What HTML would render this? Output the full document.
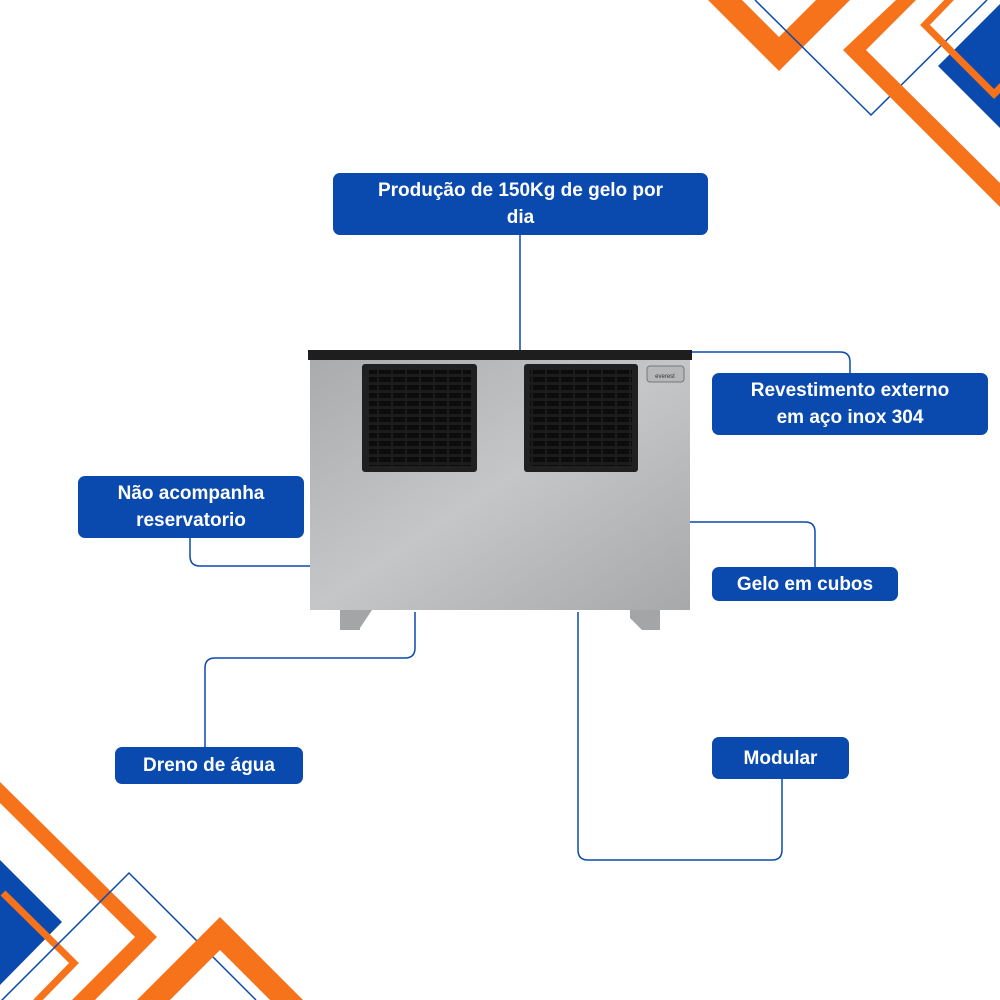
<!DOCTYPE html>
<html><head><meta charset="utf-8"><style>
html,body{margin:0;padding:0;background:#fff;}
.wrap{position:relative;width:1000px;height:1000px;overflow:hidden;font-family:"Liberation Sans",sans-serif;}
.lab{position:absolute;background:#0a4aae;color:#fff;font-weight:bold;font-size:19px;line-height:27px;text-align:center;border-radius:7px;display:flex;align-items:center;justify-content:center;box-sizing:border-box;padding:0 4px;}
</style></head><body><div class="wrap">
<svg width="1000" height="1000" style="position:absolute;left:0;top:0">
<defs>
<linearGradient id="steel" x1="0" y1="0" x2="1" y2="1">
<stop offset="0" stop-color="#a9abad"/><stop offset="0.5" stop-color="#c4c6c7"/><stop offset="1" stop-color="#a6a8aa"/>
</linearGradient>
<pattern id="grill" width="14" height="8" patternUnits="userSpaceOnUse">
<rect width="14" height="8" fill="#1c1c1c"/><rect x="1" y="1" width="12" height="5" fill="#0c0c0c"/>
</pattern>
</defs>
<polygon points="708,0 742,0 779,37 816,0 850,0 779,71" fill="#f7731b"/>
<polyline points="755,0 871,115 987,0" fill="none" stroke="#0a4aae" stroke-width="1.5"/>
<polygon points="896,0 916,0 866,50 1000,183 1000,207 843,50" fill="#f7731b"/>
<polygon points="938,66 1000,4 1000,128" fill="#0a4aae"/>
<polyline points="952,-3 925,25 994,94 1006,82" fill="none" stroke="#f7731b" stroke-width="7"/>
<polygon points="0,782 157,937 95,1000 72,1000 135,937 0,803" fill="#f7731b"/>
<polygon points="0,860 62,922 0,985" fill="#0a4aae"/>
<polyline points="3,893 74,963 36,1002" fill="none" stroke="#f7731b" stroke-width="7"/>
<polyline points="0,1002 129,873 256,1000" fill="none" stroke="#0a4aae" stroke-width="1.5"/>
<polygon points="137,1000 220,917 303,1000 270,1000 220,950 170,1000" fill="#f7731b"/>
<g fill="none" stroke="#0a4aae" stroke-width="1.5">
<path d="M520,235 V350"/>
<path d="M692,352 H840 Q850,352 850,362 V373"/>
<path d="M690,522 H805 Q815,522 815,532 V567"/>
<path d="M312,566 H200 Q190,566 190,556 V538"/>
<path d="M415,612 V648 Q415,658 405,658 H215 Q205,658 205,668 V747"/>
<path d="M578,612 V850 Q578,860 588,860 H772 Q782,860 782,850 V779"/>
</g>
<polygon points="340,610 372,610 360,628 360,630 340,630" fill="#a3a5a7"/>
<polygon points="630,610 660,610 660,630 642,630 630,618" fill="#a3a5a7"/>
<rect x="310" y="358" width="380" height="252" fill="url(#steel)"/>
<rect x="308" y="350" width="384" height="10" fill="#1e1e1e"/>
<rect x="362" y="364" width="115" height="108" rx="3" fill="#202020"/>
<rect x="369" y="370" width="102" height="96" fill="url(#grill)"/>
<rect x="524" y="364" width="114" height="108" rx="3" fill="#202020"/>
<rect x="530" y="370" width="102" height="96" fill="url(#grill)"/>
<rect x="647" y="366" width="37" height="16" rx="3" fill="#b5b7b8" stroke="#777" stroke-width="1"/>
<text x="665" y="378" font-size="6" text-anchor="middle" fill="#333" font-family="Liberation Sans">everest</text>
</svg>
<div class="lab" style="left:333px;top:173px;width:375px;height:62px;">Produção de 150Kg de gelo por<br>dia</div>
<div class="lab" style="left:712px;top:373px;width:276px;height:62px;">Revestimento externo<br>em aço inox 304</div>
<div class="lab" style="left:78px;top:476px;width:226px;height:62px;">Não acompanha<br>reservatorio</div>
<div class="lab" style="left:712px;top:567px;width:186px;height:34px;">Gelo em cubos</div>
<div class="lab" style="left:115px;top:747px;width:188px;height:37px;">Dreno de água</div>
<div class="lab" style="left:712px;top:737px;width:137px;height:42px;">Modular</div>
</div></body></html>
